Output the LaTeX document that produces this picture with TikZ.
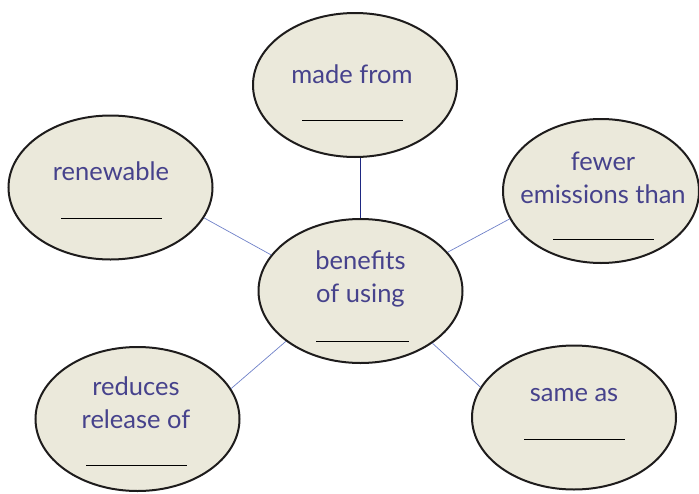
\documentclass[tikz,border=0pt]{standalone}
\usepackage{fontspec}
\setmainfont{Lato}
\usetikzlibrary{shapes.geometric}

\definecolor{bubblefill}{RGB}{235,233,219}
\definecolor{bubbleline}{RGB}{30,28,28}
\definecolor{wordblue}{RGB}{70,66,140}
\definecolor{spokeblue}{RGB}{110,128,200}
\definecolor{spokenavy}{RGB}{30,40,130}

\tikzset{
  bubble/.style={ellipse, draw=bubbleline, line width=2pt, fill=bubblefill,
    minimum width=204pt, minimum height=144pt, inner sep=0pt},
  word/.style={text=wordblue, font=\fontsize{25.5}{33}\selectfont, align=center,
    inner sep=0pt},
  blank/.style={line width=0.9pt, black},
  spoke/.style={draw=spokeblue, line width=0.7pt}
}

\begin{document}
\begin{tikzpicture}[x=1pt,y=-1pt]
    \useasboundingbox (0,0) rectangle (699,493);

    % Centre node
    \node[bubble] (using) at (360.5,291) {};
    \node[word] (usingText) at (360.5,279) {benefits\\of using};
    \draw[blank] (316,341) -- (409,341);

    % Top node
    \node[bubble] (made) at (355,85) {};
    \node[word] (madeText) at (352,74) {made from};
    \draw[blank] (302,120) -- (403,120);
    \draw[spoke, draw=spokenavy] (using.north) -- (using.north |- made.south);

    % Left node
    \node[bubble] (renew) at (110.5,187.5) {};
    \node[word] (renewText) at (111,171) {renewable};
    \draw[blank] (61,218) -- (162,218);
    \draw[spoke] (using.158) -- (renew.-18);

    % Right node
    \node[bubble, minimum width=196pt] (fewer) at (601,191) {};
    \node[word] (fewerText) at (603,178) {fewer\\emissions than};
    \draw[blank] (553,239) -- (654,239);
    \draw[spoke] (using.24) -- (fewer.197);

    % Bottom left node
    \node[bubble] (reduce) at (137.5,419) {};
    \node[word] (reduceText) at (136,403) {reduces\\release of};
    \draw[blank] (86,465) -- (187,465);
    \draw[spoke] (using.214) -- (reduce.18);

    % Bottom right node
    \node[bubble] (same) at (574,417.5) {};
    \node[word] (sameText) at (574,395) {same as};
    \draw[blank] (524,439) -- (625,439);
    \draw[spoke] (using.-36.5) -- (same.162);
\end{tikzpicture}
\end{document}
